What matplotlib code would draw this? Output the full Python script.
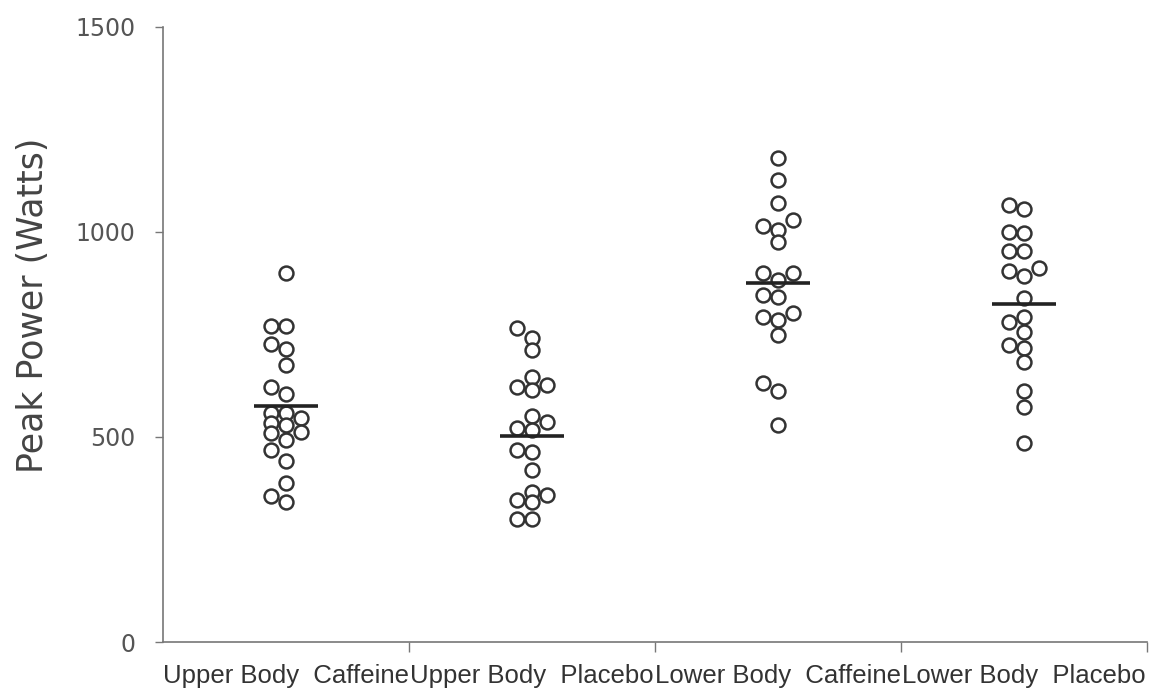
import numpy as np
import matplotlib
matplotlib.use("Agg")
import matplotlib.pyplot as plt

groups = ["Upper Body  Caffeine", "Upper Body  Placebo",
          "Lower Body  Caffeine", "Lower Body  Placebo"]

upper_caffeine = [900, 771, 771, 726, 714, 676, 623, 605, 558, 558, 546,
                  533, 529, 513, 509, 493, 468, 442, 387, 356, 342]
upper_placebo = [765, 741, 712, 647, 627, 623, 615, 550, 537, 521, 517,
                 468, 464, 420, 367, 359, 346, 342, 300, 300]
lower_caffeine = [1180, 1127, 1070, 1029, 1015, 1005, 976, 899, 899, 883,
                  846, 842, 802, 793, 785, 749, 631, 613, 529]
lower_placebo = [1066, 1055, 1001, 997, 954, 954, 911, 905, 893, 838, 793,
                 781, 757, 724, 716, 684, 611, 574, 485]
means = [575, 502, 876, 824]

series = [upper_caffeine, upper_placebo, lower_caffeine, lower_placebo]


def swarm(values, ystep, xstep, thresh=0.75):
    # simple greedy swarm limited to three columns, some overlap allowed
    placed = []
    offs = np.zeros(len(values))
    order = np.argsort(values)
    for i in order:
        y = values[i] / ystep
        best, best_d = 0, -1
        for c in (0, -1, 1):
            d = min([np.hypot(c - pc, y - py) for pc, py in placed] or [9])
            if d >= thresh:
                best = c
                break
            if d > best_d:
                best, best_d = c, d
        placed.append((best, y))
        offs[i] = best * xstep
    return offs


fig = plt.figure(figsize=(11.57, 6.95), dpi=100)
ax = fig.add_axes([163 / 1157, 1 - 642 / 695, 984 / 1157, 615 / 695])

# one marker diameter ~15 px -> 0.06 category units, 36.6 W
for i, vals in enumerate(series):
    vals = np.array(vals, dtype=float)
    dx = swarm(vals, 36.6, 0.06)
    ax.plot(i + dx, vals, "o", ms=10, mfc="white", mec="#333333",
            mew=1.8, ls="none", clip_on=False)
    ax.plot([i - 0.13, i + 0.13], [means[i], means[i]], color="#222222",
            lw=2.6, solid_capstyle="butt")

ax.set_xlim(-0.5, 3.5)
ax.set_ylim(0, 1500)
ax.set_yticks([0, 500, 1000, 1500])
ax.set_xticks([0.5, 1.5, 2.5, 3.5])
ax.set_xticklabels([])
ax.set_xticks([0, 1, 2, 3], minor=True)
ax.set_xticklabels(groups, minor=True, family="Liberation Sans",
                   fontsize=18.5, color="#333333")
ax.tick_params(axis="x", which="minor", length=0, pad=16)
ax.tick_params(axis="x", which="major", length=7, color="#777777", width=1)
ax.tick_params(axis="y", length=6, color="#777777", width=1, pad=14,
               labelsize=17, labelcolor="#555555")

for s in ("top", "right"):
    ax.spines[s].set_visible(False)
for s in ("left", "bottom"):
    ax.spines[s].set_color("#777777")
    ax.spines[s].set_linewidth(1.2)

ax.set_ylabel("Peak Power (Watts)", fontsize=25, color="#444444")
ax.yaxis.set_label_coords(-0.115, 0.548)

fig.savefig("out.png", dpi=100)
